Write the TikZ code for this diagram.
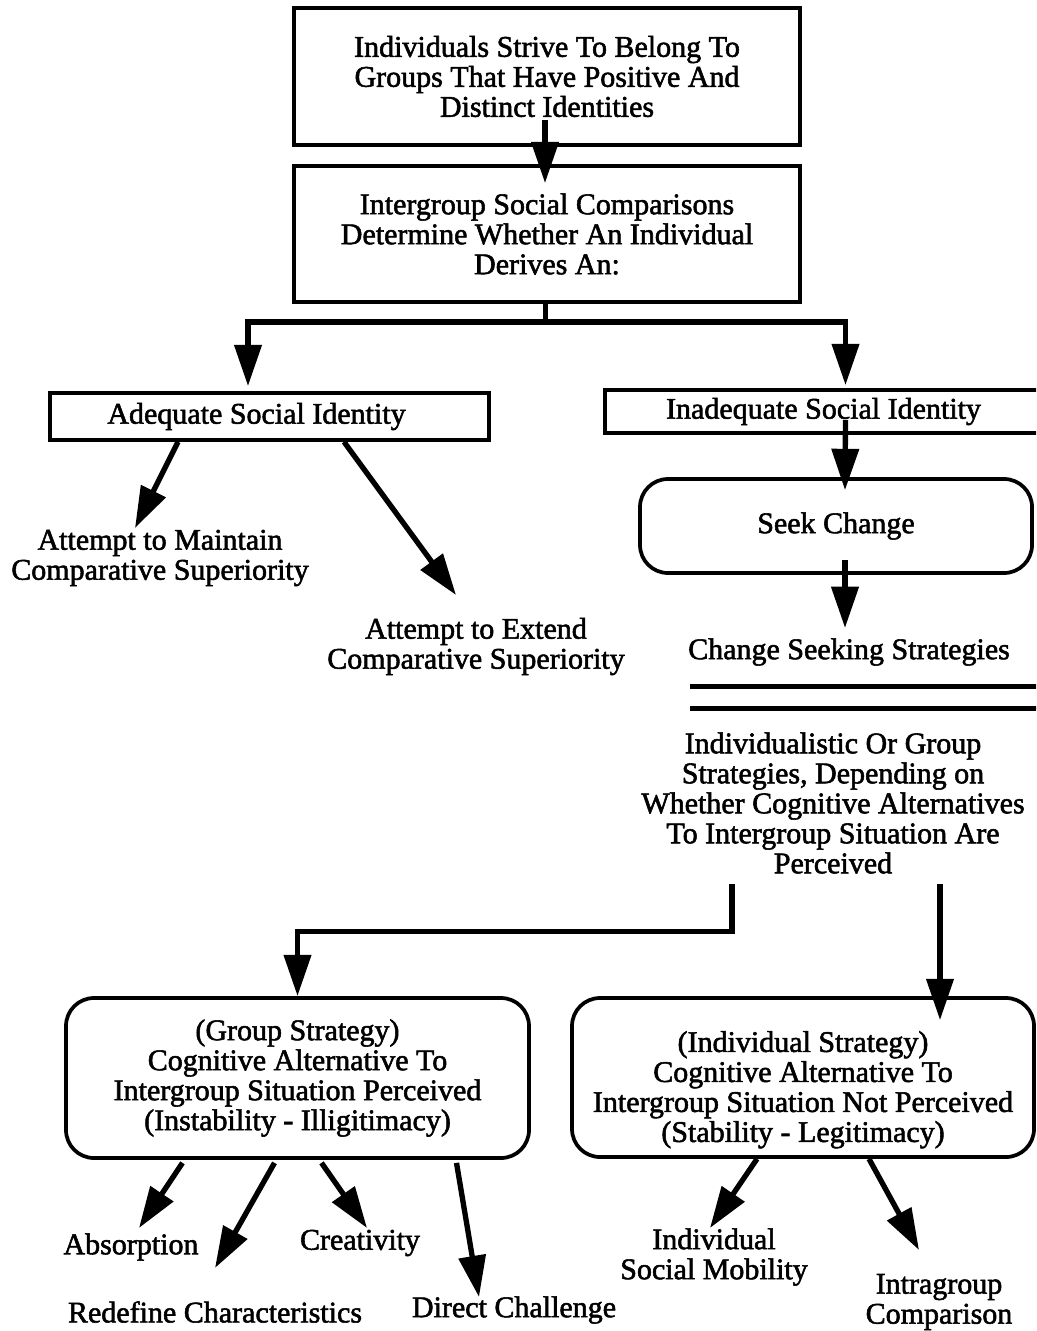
\documentclass[tikz,border=0pt]{standalone}
\usepackage{fontspec}
\setmainfont[FakeBold=1.8]{Liberation Serif}
\usetikzlibrary{arrows.meta,calc}
\begin{document}
\begin{tikzpicture}[x=0.75pt,y=-0.75pt,
  txt/.style={font=\fontsize{22.5}{22.5}\selectfont, align=center, inner sep=0pt},
  box/.style={draw, line width=2.8pt, txt},
  rbox/.style={box, rounded corners=21pt},
  arr/.style={line width=4pt, -{Triangle[length=31pt,width=20pt]}},
  ln/.style={line width=3.75pt}]
\useasboundingbox (0,0) rectangle (1036,1331);
\clip (0,0) rectangle (1036,1331);
% boxes
\node[box, minimum width=379.5pt, minimum height=102.75pt] (b1) at (547,76.5)
  {Individuals Strive To Belong To\\Groups That Have Positive And\\Distinct Identities};
\node[box, minimum width=379.5pt, minimum height=102pt] (b2) at (547,234)
  {Intergroup Social Comparisons\\Determine Whether An Individual\\Derives An:};
\node[box, minimum width=329.25pt, minimum height=35.25pt] (adq) at (269.5,416.5)
  {Adequate Social Identity\hspace*{19.5pt}};
\node[box, minimum width=327.75pt, minimum height=32.25pt] (inadq) at (823.5,411.5)
  {Inadequate Social Identity};
\node[rbox, minimum width=294pt, minimum height=70.5pt] (seek) at (836,526)
  {Seek Change};
\node[rbox, minimum width=347.25pt, minimum height=120pt] (grp) at (297.5,1078)
  {(Group Strategy)\\Cognitive Alternative To\\Intergroup Situation Perceived\\(Instability - Illigitimacy)};
\node[rbox, minimum width=346.5pt, minimum height=119.25pt] (ind) at (803,1077.5)
  {\rule{0pt}{34pt}(Individual Strategy)\\Cognitive Alternative To\\Intergroup Situation Not Perceived\\(Stability - Legitimacy)};
% plain labels
\node[txt] (am) at (160,558) {Attempt to Maintain\\Comparative Superiority};
\node[txt] (ae) at (476,646.5) {Attempt to Extend\\Comparative Superiority};
\node[txt] (css) at (849,652) {Change Seeking Strategies};
\node[txt] (para) at (833,803) {Individualistic Or Group\\Strategies, Depending on\\Whether Cognitive Alternatives\\To Intergroup Situation Are\\Perceived};
\node[txt] (abs) at (131,1247) {Absorption};
\node[txt] (cre) at (360,1243) {Creativity};
\node[txt] (red) at (215,1312) {Redefine Characteristics};
\node[txt] (dch) at (514,1310) {Direct Challenge};
\node[txt] (ism) at (714,1257) {Individual\\Social Mobility};
\node[txt] (intra) at (939,1302) {Intragroup\\Comparison};
% connectors
\draw[arr] ($(b1.south)+(-2,-27)$) -- ($(b2.north)+(-2,19)$);
\coordinate (split) at ($(b2.south)+(-2,18)$);
\draw[ln] ($(b2.south)+(-2,-3)$) -- (split);
\draw[arr] (split) -| ($(adq.north)+(-21.5,-5)$);
\draw[arr] (split) -| ($(inadq.north)+(22,-3)$);
\draw[arr] ($(inadq.south)+(22,-15)$) -- ($(seek.north)+(9,13)$);
\draw[arr] ($(seek.south)+(9,-15)$) -- ($(css)+(-4,-24)$);
\draw[arr] ($(adq.south)+(-91.5,0)$) -- ($(am)+(-25,-30)$);
\draw[arr] ($(adq.south)+(74.5,0)$) -- ($(ae)+(-20,-51.5)$);
% double rule
\draw[ln] (690,686) -- (1040,686);
\draw[ln] (690,708) -- (1040,708);
\coordinate (pL) at ($(para.south)+(-101,10)$);
\coordinate (pR) at ($(para.south)+(107,10)$);
\draw[arr] (pL) -- ++(0,48) -| (grp.north);
\draw[arr] (pR) -- ($(ind.north)+(137,24)$);
\draw[arr] ($(grp.south)+(-115,3)$) -- ($(abs)+(8,-19)$);
\draw[arr] ($(grp.south)+(-23,3)$) -- ($(red)+(0,-44)$);
\draw[arr] ($(grp.south)+(24,3)$) -- ($(cre)+(7,-15)$);
\draw[arr] ($(grp.south)+(159,3)$) -- ($(dch)+(-35,-13)$);
\draw[arr] ($(ind.south)+(-46,0)$) -- ($(ism)+(-4,-29)$);
\draw[arr] ($(ind.south)+(66,0)$) -- ($(intra)+(-20,-52)$);
\end{tikzpicture}
\end{document}
